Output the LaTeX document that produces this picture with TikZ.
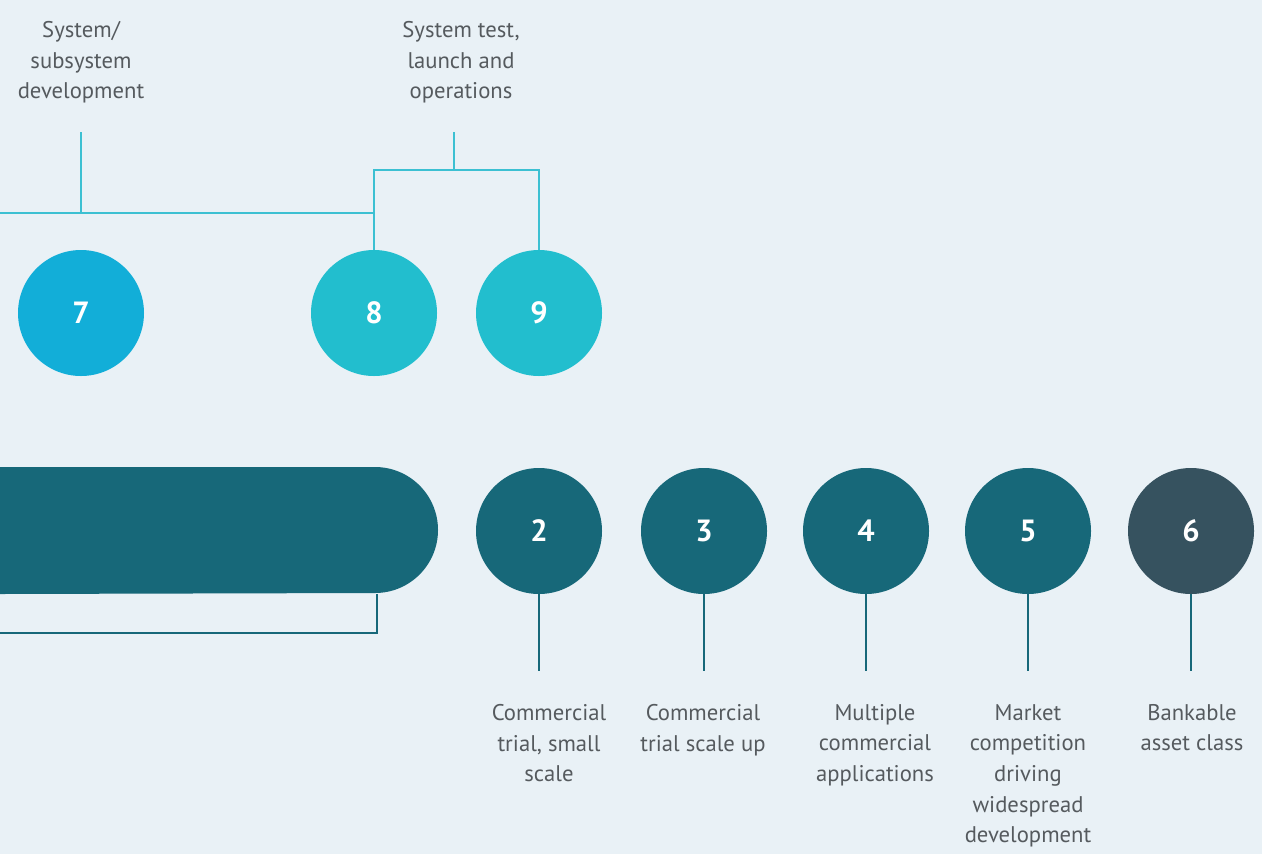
\documentclass[tikz,border=0pt]{standalone}
\usepackage{fontspec}
\setmainfont{PT Sans}
\usetikzlibrary{positioning}

\definecolor{bgblue}{HTML}{E9F1F6}
\definecolor{skyblue}{HTML}{12AED8}
\definecolor{aqua}{HTML}{22BECE}
\definecolor{deepteal}{HTML}{176879}
\definecolor{slate}{HTML}{36525F}
\definecolor{linecyan}{HTML}{3CC0D2}
\definecolor{txtgray}{HTML}{555A5E}

\begin{document}
\begin{tikzpicture}[x=0.75pt, y=-0.75pt,
    stage/.style={circle, minimum size=94.5pt, inner sep=0pt, text=white,
                  font=\fontsize{23}{23}\selectfont\bfseries},
    caption/.style={align=center, text=txtgray, inner sep=0pt,
                    font=\fontsize{17}{23}\selectfont},
    upline/.style={draw=linecyan, line width=1.1pt},
    downline/.style={draw=deepteal, line width=0.8pt}]

    \fill[bgblue] (0,0) rectangle (1262,854);
    \useasboundingbox (0,0) rectangle (1262,854);

    % upper row
    \node[stage, fill=skyblue] (s7) at (81,313)  {7};
    \node[stage, fill=aqua]    (s8) at (374,313) {8};
    \node[stage, fill=aqua]    (s9) at (539,313) {9};

    \node[caption, anchor=north] (t7) at (81,21)  {System/\\subsystem\\development};
    \node[caption, anchor=north] (t8) at (461,21) {System test,\\launch and\\operations};

    \coordinate (lefttop) at (0,213);
    \coordinate (k7) at (81,132);
    \coordinate (k8) at (454,132);
    \draw[upline] (lefttop) -| (s8.north);
    \draw[upline] (k7) -- (k7 |- lefttop);
    \draw[upline] (k8) -- (k8 |- 0,170);
    \draw[upline] (s8.north) -- (s8 |- 0,170) -| (s9.north);

    % lower row
    \fill[deepteal] (0,467) -- (375,467) arc[start angle=90, end angle=-90, radius=47.25pt] -- (0,594) -- cycle;
    \coordinate (pillend) at (377,594);
    \coordinate (leftbot) at (0,633);
    \draw[downline] (pillend) |- (leftbot);

    \node[stage, fill=deepteal] (s2) at (539,531)  {2};
    \node[stage, fill=deepteal] (s3) at (704,531)  {3};
    \node[stage, fill=deepteal] (s4) at (866,531)  {4};
    \node[stage, fill=deepteal] (s5) at (1028,531) {5};
    \node[stage, fill=slate]    (s6) at (1191,531) {6};

    \foreach \s in {s2,s3,s4,s5,s6}
        \draw[downline] (\s.south) -- ++(0,77);

    \node[caption, anchor=north] (t2) at (549,704)  {Commercial\\trial, small\\scale};
    \node[caption, anchor=north] (t3) at (703,704)  {Commercial\\trial scale up};
    \node[caption, anchor=north] (t4) at (875,704)  {Multiple\\commercial\\applications};
    \node[caption, anchor=north] (t5) at (1028,704) {Market\\competition\\driving\\widespread\\development};
    \node[caption, anchor=north] (t6) at (1192,704) {Bankable\\asset class};
\end{tikzpicture}
\end{document}
